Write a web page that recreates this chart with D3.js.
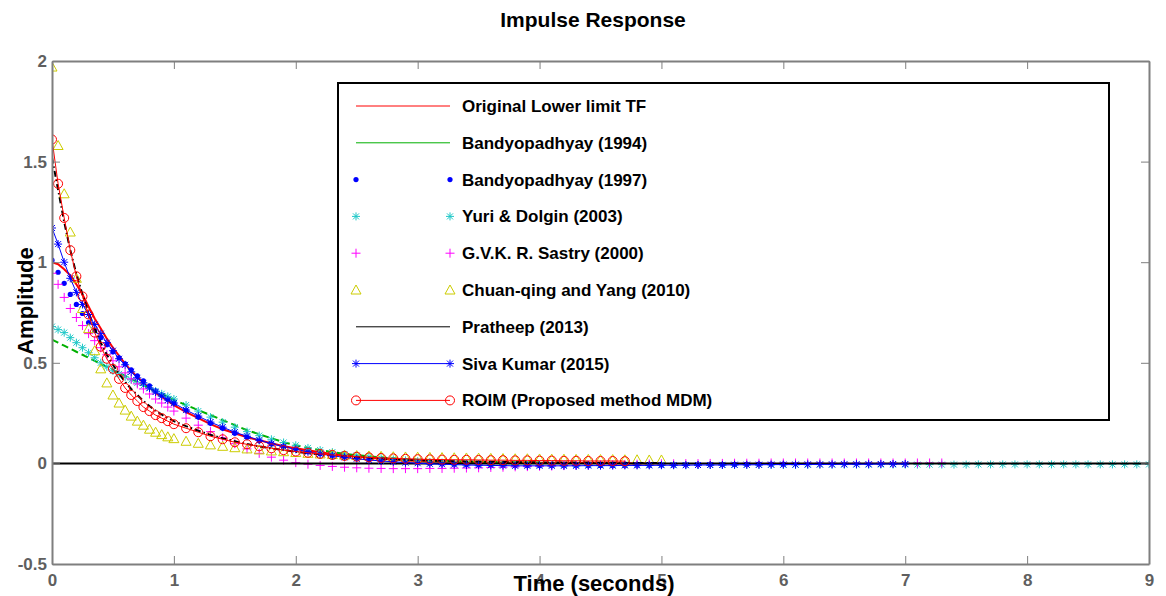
<!DOCTYPE html>
<html>
<head>
<meta charset="utf-8">
<script src="https://cdn.jsdelivr.net/npm/d3@7"></script>
<style>
  body { margin: 0; background: #fff; }
  text { font-family: "Liberation Sans", Arial, sans-serif; font-weight: bold; }
</style>
</head>
<body>
<svg id="chart" width="1166" height="596"></svg>
<script>
// sample times (seconds)
var times = [0, 0.05, 0.1, 0.15, 0.2, 0.25, 0.3, 0.35, 0.4, 0.45, 0.5, 0.55, 0.6, 0.65, 0.7, 0.75, 0.8, 0.85, 0.9, 0.95, 1.0,
  1.1, 1.2, 1.3, 1.4, 1.5, 1.6, 1.7, 1.8, 1.9, 2.0,
  2.1, 2.2, 2.3, 2.4, 2.5, 2.6, 2.7, 2.8, 2.9, 3.0,
  3.1, 3.2, 3.3, 3.4, 3.5, 3.6, 3.7, 3.8, 3.9, 4.0,
  4.1, 4.2, 4.3, 4.4, 4.5, 4.6, 4.7, 4.8, 4.9, 5.0,
  5.1, 5.2, 5.3, 5.4, 5.5, 5.6, 5.7, 5.8, 5.9, 6.0,
  6.1, 6.2, 6.3, 6.4, 6.5, 6.6, 6.7, 6.8, 6.9, 7.0,
  7.1, 7.2, 7.3, 7.4, 7.5, 7.6, 7.7, 7.8, 7.9, 8.0,
  8.1, 8.2, 8.3, 8.4, 8.5, 8.6, 8.7, 8.8, 8.9, 9.0];

// amplitudes, one per sample time (series stop where their array ends)
var originalTF = [1.0, 0.99, 0.965, 0.935, 0.89, 0.84, 0.78, 0.72, 0.67, 0.62, 0.575, 0.535, 0.495, 0.46, 0.43, 0.40, 0.375, 0.35, 0.33, 0.31, 0.29,
  0.255, 0.225, 0.195, 0.17, 0.15, 0.13, 0.115, 0.10, 0.085, 0.075,
  0.065, 0.055, 0.047, 0.04, 0.034, 0.028, 0.023, 0.019, 0.015, 0.012,
  0.01, 0.009, 0.008, 0.007, 0.006, 0.005, 0.005, 0.004, 0.004, 0.003,
  0.003, 0.003, 0.002, 0.002, 0.002, 0.002, 0.001, 0.001, 0.001, 0.001];

var bandy1994 = [0.615, 0.60, 0.585, 0.57, 0.555, 0.54, 0.525, 0.51, 0.495, 0.48, 0.465, 0.45, 0.435, 0.42, 0.405, 0.39, 0.375, 0.36, 0.345, 0.33, 0.315,
  0.29, 0.265, 0.24, 0.215, 0.19, 0.165, 0.145, 0.125, 0.105, 0.09,
  0.077, 0.066, 0.056, 0.048, 0.041, 0.035, 0.03, 0.025, 0.021, 0.018,
  0.015, 0.013, 0.011, 0.009, 0.008, 0.007, 0.006, 0.005, 0.004, 0.004];

var bandy1997 = [1.01, 0.95, 0.895, 0.84, 0.79, 0.745, 0.70, 0.66, 0.625, 0.59, 0.555, 0.525, 0.495, 0.465, 0.435, 0.41, 0.385, 0.36, 0.34, 0.32, 0.30,
  0.265, 0.23, 0.20, 0.175, 0.15, 0.13, 0.112, 0.097, 0.083, 0.07,
  0.058, 0.048, 0.04, 0.032, 0.026, 0.02, 0.015, 0.011, 0.007, 0.004,
  0.001, -0.002, -0.004, -0.006, -0.007, -0.008, -0.009, -0.01, -0.01, -0.011,
  -0.011, -0.011, -0.011, -0.011, -0.01, -0.01, -0.01, -0.009, -0.009, -0.008,
  -0.008, -0.007, -0.007, -0.006, -0.006, -0.005, -0.005, -0.004, -0.004, -0.004];

var yuriDolgin = [0.68, 0.665, 0.65, 0.625, 0.60, 0.575, 0.55, 0.525, 0.50, 0.48, 0.46, 0.445, 0.43, 0.415, 0.40, 0.387, 0.373, 0.36, 0.346, 0.333, 0.32,
  0.29, 0.26, 0.23, 0.205, 0.18, 0.158, 0.138, 0.12, 0.104, 0.09,
  0.077, 0.066, 0.056, 0.047, 0.039, 0.032, 0.026, 0.02, 0.015, 0.011,
  0.007, 0.004, 0.001, -0.001, -0.003, -0.004, -0.005, -0.006, -0.007, -0.007,
  -0.008, -0.008, -0.008, -0.008, -0.008, -0.008, -0.008, -0.008, -0.008, -0.008,
  -0.008, -0.008, -0.008, -0.008, -0.007, -0.007, -0.007, -0.007, -0.007, -0.007,
  -0.007, -0.007, -0.006, -0.006, -0.006, -0.006, -0.006, -0.006, -0.006, -0.006,
  -0.006, -0.006, -0.006, -0.006, -0.006, -0.005, -0.005, -0.005, -0.005, -0.005,
  -0.005, -0.005, -0.005, -0.005, -0.005, -0.005, -0.005, -0.005, -0.005, -0.005];

var sastry = [0.945, 0.89, 0.825, 0.77, 0.725, 0.685, 0.645, 0.61, 0.575, 0.54, 0.51, 0.48, 0.45, 0.42, 0.395, 0.37, 0.345, 0.32, 0.30, 0.28, 0.26,
  0.225, 0.19, 0.158, 0.127, 0.098, 0.072, 0.05, 0.031, 0.016, 0.004,
  -0.004, -0.01, -0.015, -0.019, -0.022, -0.024, -0.025, -0.026, -0.026, -0.026,
  -0.025, -0.025, -0.024, -0.023, -0.022, -0.02, -0.019, -0.017, -0.016, -0.014,
  -0.013, -0.011, -0.01, -0.009, -0.007, -0.006, -0.005, -0.004, -0.003, -0.002,
  -0.002, -0.001, -0.001, 0, 0, 0.001, 0.001, 0.001, 0.002, 0.002,
  0.002, 0.002, 0.002, 0.002, 0.002, 0.002, 0.002, 0.002, 0.002, 0.002,
  0.002, 0.002, 0.002];

var chuanYang = [1.97, 1.58, 1.34, 1.15, 0.92, 0.77, 0.67, 0.56, 0.47, 0.40, 0.34, 0.30, 0.265, 0.235, 0.21, 0.19, 0.17, 0.155, 0.143, 0.132, 0.123,
  0.11, 0.10, 0.092, 0.085, 0.078, 0.072, 0.067, 0.062, 0.058, 0.054,
  0.05, 0.047, 0.044, 0.041, 0.039, 0.037, 0.035, 0.033, 0.032, 0.031,
  0.03, 0.029, 0.028, 0.027, 0.026, 0.025, 0.024, 0.023, 0.023, 0.022,
  0.021, 0.021, 0.02, 0.02, 0.019, 0.019, 0.018, 0.018, 0.017, 0.017];

var pratheep = [1.52, 1.36, 1.2, 1.06, 0.94, 0.84, 0.75, 0.67, 0.60, 0.54, 0.49, 0.445, 0.405, 0.37, 0.34, 0.31, 0.285, 0.262, 0.243, 0.225, 0.21,
  0.185, 0.162, 0.142, 0.125, 0.11, 0.096, 0.085, 0.075, 0.066, 0.058,
  0.051, 0.045, 0.04, 0.035, 0.031, 0.027, 0.024, 0.021, 0.018, 0.016,
  0.014, 0.012, 0.011, 0.01, 0.009, 0.008, 0.007, 0.006, 0.006, 0.005,
  0.005, 0.004, 0.004, 0.004, 0.003, 0.003, 0.003, 0.002, 0.002, 0.002];

var sivaKumar = [1.17, 1.09, 1.0, 0.92, 0.85, 0.79, 0.74, 0.69, 0.645, 0.60, 0.56, 0.52, 0.49, 0.455, 0.425, 0.40, 0.375, 0.355, 0.335, 0.315, 0.30,
  0.265, 0.235, 0.205, 0.18, 0.155, 0.135, 0.115, 0.098, 0.083, 0.07,
  0.058, 0.047, 0.038, 0.03, 0.023, 0.017, 0.012, 0.008, 0.004, 0.001,
  -0.002, -0.004, -0.006, -0.008, -0.009, -0.01, -0.011, -0.012, -0.012, -0.012,
  -0.012, -0.012, -0.012, -0.011, -0.011, -0.011, -0.01, -0.01, -0.01, -0.009,
  -0.009, -0.009, -0.008, -0.008, -0.008, -0.007, -0.007, -0.007, -0.006, -0.006,
  -0.006, -0.005, -0.005, -0.005, -0.004, -0.004, -0.004, -0.003, -0.003, -0.003];

var roim = [1.61, 1.39, 1.22, 1.06, 0.93, 0.83, 0.74, 0.65, 0.58, 0.52, 0.47, 0.42, 0.375, 0.34, 0.31, 0.28, 0.26, 0.24, 0.225, 0.21, 0.195,
  0.175, 0.155, 0.135, 0.12, 0.105, 0.095, 0.085, 0.075, 0.066, 0.059,
  0.053, 0.047, 0.042, 0.037, 0.033, 0.03, 0.027, 0.025, 0.023, 0.021,
  0.02, 0.019, 0.018, 0.018, 0.017, 0.016, 0.016, 0.015, 0.015, 0.014,
  0.014, 0.013, 0.013, 0.012, 0.012, 0.012, 0.011];

var xTicks = [0, 1, 2, 3, 4, 5, 6, 7, 8, 9];
var yTicks = [-0.5, 0, 0.5, 1, 1.5, 2];
var yTickLabels = ["-0.5", "0", "0.5", "1", "1.5", "2"];
var legendLabels = ["Original Lower limit TF", "Bandyopadhyay (1994)", "Bandyopadhyay (1997)",
  "Yuri & Dolgin (2003)", "G.V.K. R. Sastry (2000)", "Chuan-qing and Yang (2010)",
  "Pratheep (2013)", "Siva Kumar (2015)", "ROIM (Proposed method MDM)"];

var width = 1166, height = 596;
var margin = { top: 61, right: 17, bottom: 32, left: 52 };
var axisColor = "#7f7f7f", labelColor = "#5f5f5f";

var svg = d3.select("#chart");

var x = d3.scaleLinear().domain([0, 9]).range([margin.left, width - margin.right]);
var y = d3.scaleLinear().domain([-0.5, 2]).range([height - margin.bottom, margin.top]);

// marker shapes
var markerPath = {
  plus: "M-4.5,0H4.5M0,-4.5V4.5",
  star: "M-4,0H4M0,-4V4M-3,-3L3,3M-3,3L3,-3",
  tri: "M0,-5L5,4H-5Z"
};

function drawMarkers(g, pts, type, color) {
  if (type === "dot") {
    g.selectAll(null).data(pts).enter().append("circle")
      .attr("cx", d => x(d[0])).attr("cy", d => y(d[1])).attr("r", 2.6)
      .attr("fill", color);
  } else if (type === "circle") {
    g.selectAll(null).data(pts).enter().append("circle")
      .attr("cx", d => x(d[0])).attr("cy", d => y(d[1])).attr("r", 4.5)
      .attr("fill", "none").attr("stroke", color).attr("stroke-width", 1);
  } else {
    g.selectAll(null).data(pts).enter().append("path")
      .attr("transform", d => "translate(" + x(d[0]) + "," + y(d[1]) + ")")
      .attr("d", markerPath[type])
      .attr("fill", "none").attr("stroke", color).attr("stroke-width", 1);
  }
}

var series = [
  { values: originalTF, color: "#ff0000", line: 2, legendLine: 1 },
  { values: bandy1994, color: "#00b000", line: 2, dash: "7,4", legendLine: 1 },
  { values: bandy1997, color: "#0000ff", marker: "dot" },
  { values: yuriDolgin, color: "#1ec8c8", marker: "star" },
  { values: sastry, color: "#ff00ff", marker: "plus" },
  { values: chuanYang, color: "#cccc00", marker: "tri" },
  { values: pratheep, color: "#000000", line: 2, dash: "6,3,1.5,3", legendLine: 1 },
  { values: sivaKumar, color: "#0000ff", line: 1, marker: "star", legendLine: 1 },
  { values: roim, color: "#ff0000", line: 1, marker: "circle", legendLine: 1 }
];

svg.append("clipPath").attr("id", "plotClip").append("rect")
  .attr("x", margin.left).attr("y", margin.top - 8)
  .attr("width", width - margin.left - margin.right)
  .attr("height", height - margin.top - margin.bottom + 8);

var plot = svg.append("g").attr("clip-path", "url(#plotClip)");

var lineGen = d3.line().x(d => x(d[0])).y(d => y(d[1]));

series.forEach(function(s, k) {
  var pts = s.values.map((v, i) => [times[i], v]);
  var g = plot.append("g").attr("class", "series-" + k);
  if (s.line) {
    g.append("path").datum(pts)
      .attr("d", lineGen)
      .attr("fill", "none")
      .attr("stroke", s.color)
      .attr("stroke-width", s.line)
      .attr("stroke-dasharray", s.dash || null);
  }
  if (s.marker) drawMarkers(g, pts, s.marker, s.color);
  // zero line sits above the marker bands, below the last two curves
  if (k === 6) {
    plot.append("line")
      .attr("x1", x(0)).attr("x2", x(9))
      .attr("y1", y(0)).attr("y2", y(0))
      .attr("stroke", "#000").attr("stroke-width", 2);
  }
});

// axes box with inward ticks on all sides
function styleAxis(g) {
  g.select(".domain").attr("stroke", axisColor).attr("stroke-width", 2);
  g.selectAll(".tick line").attr("stroke", axisColor);
  g.selectAll(".tick text").attr("fill", labelColor).attr("font-size", 17)
    .attr("font-family", "'Liberation Sans', Arial, sans-serif").attr("font-weight", "bold");
}

svg.append("g")
  .attr("transform", "translate(0," + y(-0.5) + ")")
  .call(d3.axisBottom(x).tickValues(xTicks).tickSize(-8).tickSizeOuter(0).tickPadding(10))
  .call(styleAxis);
svg.append("g")
  .attr("transform", "translate(0," + y(2) + ")")
  .call(d3.axisTop(x).tickValues(xTicks).tickSize(-8).tickSizeOuter(0).tickFormat(""))
  .call(styleAxis);
svg.append("g")
  .attr("transform", "translate(" + x(0) + ",0)")
  .call(d3.axisLeft(y).tickValues(yTicks).tickSize(-8).tickSizeOuter(0).tickPadding(5)
    .tickFormat((d, i) => yTickLabels[i]))
  .call(styleAxis);
svg.append("g")
  .attr("transform", "translate(" + x(9) + ",0)")
  .call(d3.axisRight(y).tickValues(yTicks).tickSize(-8).tickSizeOuter(0).tickFormat(""))
  .call(styleAxis);

// title and axis labels
svg.append("text")
  .attr("x", 593).attr("y", 27)
  .attr("text-anchor", "middle").attr("font-size", 21)
  .attr("fill", "#000")
  .text("Impulse Response");

svg.append("text")
  .attr("x", 594).attr("y", 591)
  .attr("text-anchor", "middle").attr("font-size", 22)
  .attr("fill", "#000")
  .text("Time (seconds)");

svg.append("text")
  .attr("transform", "translate(33,301) rotate(-90)")
  .attr("text-anchor", "middle").attr("font-size", 22)
  .attr("fill", "#000")
  .text("Amplitude");

// legend
var legend = svg.append("g");
legend.append("rect")
  .attr("x", 338).attr("y", 83).attr("width", 771).attr("height", 337)
  .attr("fill", "#fff").attr("stroke", "#000").attr("stroke-width", 2);

var lx0 = 356, lx1 = 450, ly0 = 106, lstep = 36.8;
series.forEach(function(s, k) {
  var yy = ly0 + k * lstep;
  var row = legend.append("g");
  if (s.legendLine) {
    row.append("line")
      .attr("x1", lx0).attr("x2", lx1).attr("y1", yy).attr("y2", yy)
      .attr("stroke", s.color).attr("stroke-width", 1);
  }
  if (s.marker) {
    var ends = [[lx0, yy], [lx1, yy]];
    var mk = row.selectAll(null).data(ends).enter();
    if (s.marker === "dot") {
      mk.append("circle").attr("cx", d => d[0]).attr("cy", d => d[1]).attr("r", 2.6).attr("fill", s.color);
    } else if (s.marker === "circle") {
      mk.append("circle").attr("cx", d => d[0]).attr("cy", d => d[1]).attr("r", 4.5)
        .attr("fill", "none").attr("stroke", s.color);
    } else {
      mk.append("path").attr("transform", d => "translate(" + d[0] + "," + d[1] + ")")
        .attr("d", markerPath[s.marker]).attr("fill", "none").attr("stroke", s.color);
    }
  }
  row.append("text")
    .attr("x", 462).attr("y", yy + 6)
    .attr("font-size", 17).attr("fill", "#000")
    .text(legendLabels[k]);
});
</script>
</body>
</html>
